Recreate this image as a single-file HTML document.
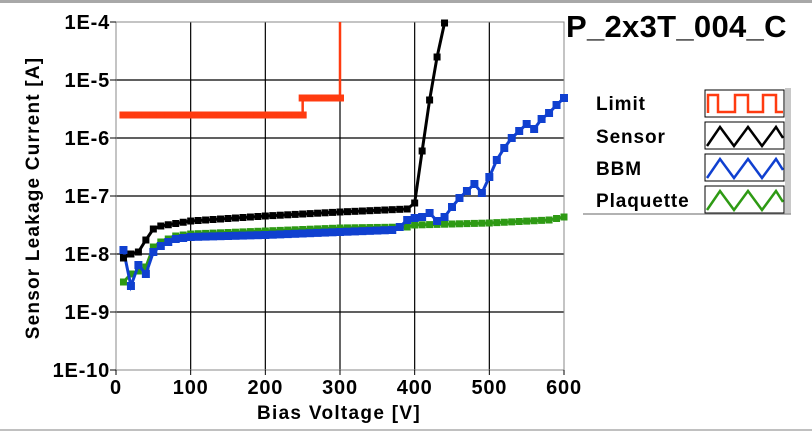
<!DOCTYPE html>
<html><head><meta charset="utf-8"><style>
html,body{margin:0;padding:0;background:#fff;}
svg{display:block;font-family:"Liberation Sans",sans-serif;font-weight:bold;}
</style></head><body>
<svg id="s" width="812" height="433" viewBox="0 0 812 433" xmlns="http://www.w3.org/2000/svg">
<rect x="0" y="0" width="812" height="433" fill="#fff"/>
<rect x="0" y="0" width="812" height="3" fill="#a8a8a8"/>
<rect x="0" y="429" width="812" height="2" fill="#c0c0c0"/>
<g id="grid" stroke="#000" stroke-width="1.2"></g>
<rect x="116" y="22" width="448" height="348" fill="none" stroke="#888" stroke-width="1"/>
<g id="ticks" font-size="20" fill="#000" letter-spacing="0.8"></g>
<text x="339" y="419" font-size="19" text-anchor="middle" letter-spacing="1.3">Bias Voltage [V]</text>
<text transform="translate(39,198) rotate(-90)" font-size="19" text-anchor="middle" letter-spacing="1.2">Sensor Leakage Current [A]</text>
<text x="566" y="37" font-size="31" letter-spacing="0.3">P_2x3T_004_C</text>
<g id="data"></g>
<!-- legend -->
<rect x="785" y="88" width="6" height="126" fill="#c8c8c8"/>
<line x1="583" y1="214" x2="791" y2="214" stroke="#999" stroke-width="1.5"/>
<g font-size="19" fill="#000" letter-spacing="0.9">
<text x="596" y="110">Limit</text>
<text x="596" y="143">Sensor</text>
<text x="596" y="175">BBM</text>
<text x="596" y="207">Plaquette</text>
</g>
<g fill="none" stroke-width="2.5">
<rect x="705" y="90" width="79" height="27" stroke="#000" stroke-width="1"/>
<polyline stroke="#ff3b10" points="708,113 708,95 718,95 718,112 735,112 735,95 748,95 748,112 763,112 763,95 776,95 776,112 783,112"/>
<rect x="705" y="122" width="79" height="27" stroke="#000" stroke-width="1"/>
<polyline stroke="#000" points="707,146 720,127 734,146 748,127 762,146 776,127 783,138"/>
<rect x="705" y="154" width="79" height="27" stroke="#000" stroke-width="1"/>
<polyline stroke="#1040d0" points="707,178 720,159 734,178 748,159 762,178 776,159 783,170"/>
<rect x="705" y="186" width="79" height="27" stroke="#000" stroke-width="1"/>
<polyline stroke="#2e9a14" points="707,210 720,191 734,210 748,191 762,210 776,191 783,202"/>
</g>
</svg>
<script>
var NS="http://www.w3.org/2000/svg";
function el(p,t,a){var e=document.createElementNS(NS,t);for(var k in a)e.setAttribute(k,a[k]);p.appendChild(e);return e;}
function X(v){return 116+v*448/600;}
var g=document.getElementById('grid'),tk=document.getElementById('ticks');
for(var i=1;i<6;i++){var y=22+i*58;el(g,'line',{x1:116,x2:564,y1:y,y2:y});}
for(var v=100;v<600;v+=100){el(g,'line',{x1:X(v),x2:X(v),y1:22,y2:370});}
var yl=['1E-4','1E-5','1E-6','1E-7','1E-8','1E-9','1E-10'];
for(var i=0;i<7;i++){var t=el(tk,'text',{x:110,y:22+i*58+7,'text-anchor':'end'});t.textContent=yl[i];el(tk,'line',{x1:110,x2:116,y1:22+i*58,y2:22+i*58,stroke:'#000'});}
for(var v=0;v<=600;v+=100){var t=el(tk,'text',{x:X(v),y:394,'text-anchor':'middle'});t.textContent=v;el(tk,'line',{x1:X(v),x2:X(v),y1:370,y2:375,stroke:'#000'});}
function interp(anch,step,from,to){var out=[];for(var v=from;v<=to;v+=step){for(var j=0;j<anch.length-1;j++){if(v>=anch[j][0]&&v<=anch[j+1][0]){var a=anch[j],b=anch[j+1];var y=a[1]+(b[1]-a[1])*(v-a[0])/(b[0]-a[0]||1);out.push([v,y]);break;}}}return out;}
var d=document.getElementById('data');
function series(pts,col,ms){var s='';pts.forEach(function(p){s+=X(p[0])+','+p[1]+' ';});
el(d,'polyline',{points:s,fill:'none',stroke:col,'stroke-width':3});
pts.forEach(function(p){el(d,'rect',{x:X(p[0])-ms/2,y:p[1]-ms/2,width:ms,height:ms,fill:col});});}
var lim=[];for(var v=10;v<=250;v+=10)lim.push([v,115]);
var lim2=[];for(var v=250;v<=300;v+=10)lim2.push([v,98]);
var lp=lim.map(function(p){return X(p[0])+','+p[1];}).join(' ')+' '+X(250)+',98 '+lim2.map(function(p){return X(p[0])+','+p[1];}).join(' ')+' '+X(300)+',22';
el(d,'polyline',{points:lp,fill:'none',stroke:'#ff3b10','stroke-width':2.5});
lim.concat(lim2).forEach(function(p){el(d,'rect',{x:X(p[0])-4,y:p[1]-3.5,width:8,height:7,fill:'#ff3b10'});});
var gr=interp([[10,282],[20,274],[30,271],[40,267],[50,247],[60,242],[70,239],[80,236],[100,234],[200,231],[300,228],[390,227],[400,225],[500,223],[580,220],[600,217]],10,10,600);
series(gr,'#2e9a14',7);
var bl=[[10,250],[20,286],[30,265],[40,274],[50,252],[60,246],[70,242],[80,239],[90,238],[100,237],[200,235],[300,232],[370,230],[380,227],[390,220],[400,218],[410,217],[420,213],[430,221],[440,217],[450,207],[460,198],[470,191],[480,184],[490,193],[500,177],[510,160],[520,148],[530,138],[540,131],[550,124],[560,129],[570,119],[580,113],[590,105],[600,98]];
series(interp(bl,10,10,600),'#1040d0',8);
var bk=[[10,258],[20,254],[30,252],[40,240],[50,229],[60,226],[100,221],[200,216],[300,212],[390,209],[400,203],[410,151],[420,100],[430,57],[440,23]];
series(interp(bk,10,10,440),'#000',7);
</script>
</body></html>
